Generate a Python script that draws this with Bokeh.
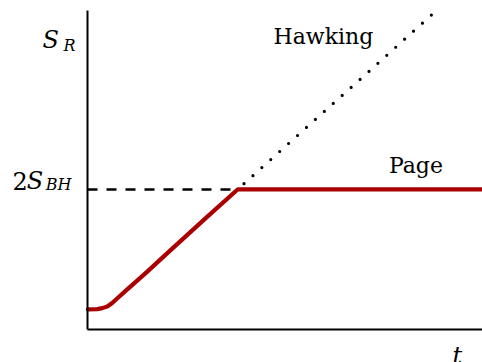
from bokeh.plotting import figure
from bokeh.models import Range1d, Label, FixedTicker, LinearAxis
from bokeh.embed import file_html
from bokeh.resources import INLINE

# Data (arbitrary units)
hawking_t = [0.0, 0.25, 0.375, 0.5, 0.625, 0.75, 1.0, 1.5, 2.0, 3.0, 3.8, 5.0, 6.0, 7.0, 8.0, 8.71]
hawking_s = [0.63, 0.64, 0.67, 0.72, 0.83, 0.97, 1.25, 1.80, 2.37, 3.50, 4.39, 5.73, 6.84, 7.95, 9.07, 9.86]
page_t = [0.0, 0.25, 0.375, 0.5, 0.625, 0.75, 1.0, 1.5, 2.0, 3.0, 3.8, 10.0]
page_s = [0.63, 0.64, 0.67, 0.72, 0.83, 0.97, 1.25, 1.80, 2.37, 3.50, 4.39, 4.39]
s_bh2 = 4.39      # 2 S_BH level
t_page = 3.8      # Page time
t_max = 10.0
s_max = 10.0

p = figure(width=482, height=362, output_backend="svg", toolbar_location=None,
           x_range=Range1d(-2.2025, 10.0), y_range=Range1d(-1.0345, 10.3135),
           x_axis_location=None, y_axis_location=None,
           min_border=0)
p.outline_line_color = None
p.grid.visible = False
p.background_fill_color = "white"
p.border_fill_color = "white"

xa = LinearAxis(fixed_location=0, bounds=(0, t_max))
ya = LinearAxis(fixed_location=0, bounds=(0, s_max))
for ax in (xa, ya):
    ax.ticker = FixedTicker(ticks=[])
    ax.axis_line_color = "black"
    ax.axis_line_width = 2
    ax.major_tick_line_color = None
    ax.minor_tick_line_color = None
    ax.major_label_text_font_size = "0px"
    ax.major_label_standoff = 0
p.add_layout(xa, "below")
p.add_layout(ya, "left")

# Hawking (dotted)
p.line(hawking_t, hawking_s, line_color="black", line_width=3.2,
       line_dash="0 12", line_cap="round")
# 2 S_BH dashed level
p.line([0, t_page], [s_bh2, s_bh2], line_color="black", line_width=2.5, line_dash="10 9")
# Page curve
p.line(page_t, page_s, line_color="#aa0000", line_width=4.2, line_join="round")

serif = "DejaVu Serif"

def lab(x, y, text, size, style="normal"):
    p.add_layout(Label(x=x, y=y, text=text, text_font=serif, text_font_size=size,
                       text_font_style=style, text_align="left",
                       text_baseline="alphabetic", text_color="black"))

lab(4.71, 9.19, "Hawking", "22px")
lab(7.63, 5.14, "Page", "22px")
lab(-1.14, 9.06, "S", "24px", "italic")
lab(-0.61, 8.90, "R", "16px", "italic")
lab(-1.90, 4.67, "2", "24px")
lab(-1.54, 4.67, "S", "24px", "italic")
lab(-1.06, 4.55, "BH", "16px", "italic")
lab(9.24, -0.82, "t", "24px", "italic")

open("out.html", "w").write(file_html(p, INLINE))
